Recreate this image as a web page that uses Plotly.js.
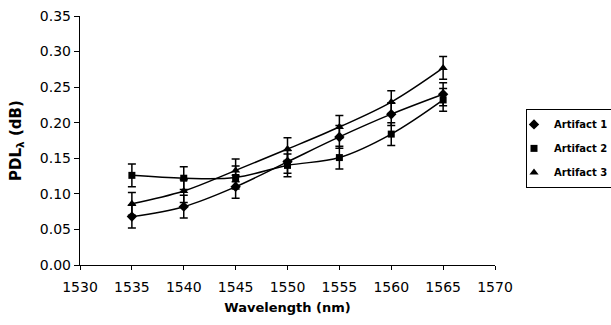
<!DOCTYPE html>
<html>
<head>
<meta charset="utf-8">
<script src="https://cdn.plot.ly/plotly-3.0.1.min.js"></script>
<style>html,body{margin:0;padding:0;background:#fff;}#chart{width:611px;height:325px;}</style>
</head>
<body>
<div id="chart"></div>
<script>
const wavelength = [1535, 1540, 1545, 1550, 1555, 1560, 1565];
const artifact1 = [0.068, 0.082, 0.110, 0.145, 0.180, 0.212, 0.240];
const artifact2 = [0.126, 0.122, 0.123, 0.140, 0.151, 0.184, 0.232];
const artifact3 = [0.086, 0.104, 0.133, 0.163, 0.194, 0.229, 0.277];
const errAll = [0.016, 0.016, 0.016, 0.016, 0.016, 0.016, 0.016];
const seriesNames = ['Artifact 1', 'Artifact 2', 'Artifact 3'];
const symbols = ['diamond', 'square', 'triangle-up'];
const xTicks = [1530, 1535, 1540, 1545, 1550, 1555, 1560, 1565, 1570];
const yTicks = [0, 0.05, 0.10, 0.15, 0.20, 0.25, 0.30, 0.35];

const seriesData = [artifact1, artifact2, artifact3];
const lineTraces = seriesData.map((ys, i) => ({
  x: wavelength, y: ys, name: seriesNames[i], type: 'scatter', mode: 'lines',
  showlegend: false, hoverinfo: 'skip',
  line: {color: '#000', width: 1.5, shape: 'spline', smoothing: 1}
}));
const markerTraces = seriesData.map((ys, i) => ({
  x: wavelength, y: ys, name: seriesNames[i], type: 'scatter', mode: 'markers',
  legendgroup: 'g' + i,
  marker: {symbol: symbols[i], color: '#000', size: i === 1 ? 7 : 8},
  error_y: {type: 'data', array: errAll, visible: true, color: '#000', thickness: 1.5, width: 4}
}));

const layout = {
  width: 611, height: 325,
  margin: {l: 80, r: 116, t: 16, b: 60, autoexpand: false},
  paper_bgcolor: '#fff', plot_bgcolor: '#fff',
  font: {family: 'DejaVu Sans, Arial, sans-serif', color: '#000', size: 14},
  xaxis: {
    range: [1530, 1570], tickvals: xTicks, ticktext: xTicks.map(String),
    showgrid: false, zeroline: false, showline: true, linecolor: '#000', linewidth: 1.2,
    ticks: 'outside', ticklen: 4, tickcolor: '#000', ticklabelstandoff: 5,
    tickfont: {size: 14},
    title: {text: '<b>Wavelength (nm)</b>', font: {size: 13}, standoff: 8}
  },
  yaxis: {
    range: [0, 0.35], tickvals: yTicks, ticktext: yTicks.map(v => v.toFixed(2)),
    showgrid: false, zeroline: false, showline: true, linecolor: '#000', linewidth: 1.2,
    ticks: 'outside', ticklen: 5, tickcolor: '#000',
    tickfont: {size: 14},
    title: {text: '<b>PDL<sub>λ</sub> (dB)</b>', font: {size: 15}, standoff: 14}
  },
  showlegend: true,
  legend: {
    x: 1.0747, xanchor: 'left', y: 0.627, yanchor: 'top',
    bgcolor: '#fff', bordercolor: '#000', borderwidth: 1,
    font: {size: 10, family: 'DejaVu Sans, Arial, sans-serif', weight: 'bold'},
    indentation: -13, tracegroupgap: 5
  }
};

Plotly.newPlot('chart', lineTraces.concat(markerTraces), layout, {displayModeBar: false, staticPlot: true});
</script>
</body>
</html>
